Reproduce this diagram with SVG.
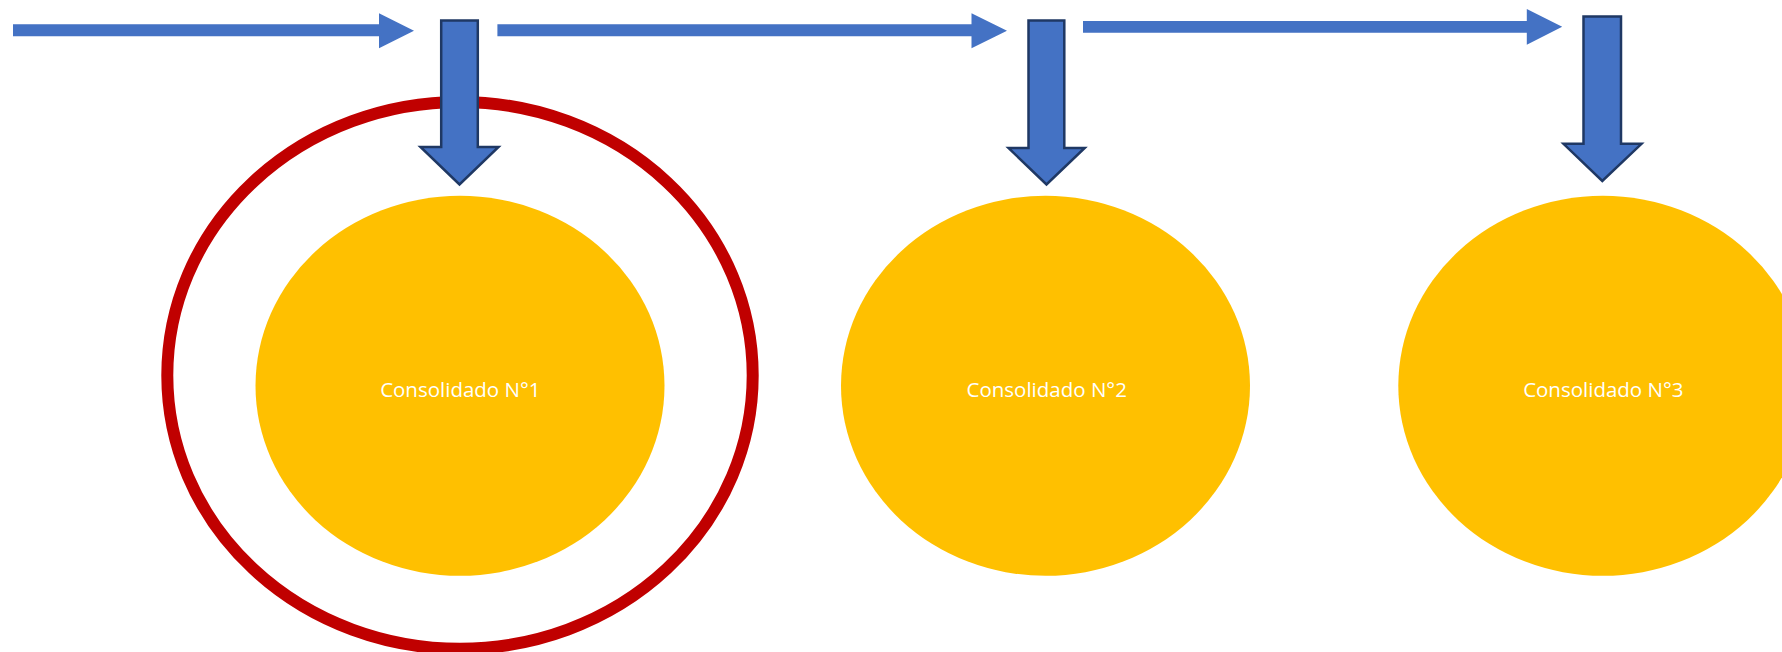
<svg xmlns="http://www.w3.org/2000/svg" width="1782" height="652" viewBox="0 0 1782 652">
  <style>
    .flow { fill: #4472C4; stroke: none; }
    .block { fill: #4472C4; stroke: #1F3864; stroke-width: 2.5; stroke-linejoin: miter; }
    .node { fill: #FFC000; }
    .ring { fill: none; stroke: #C00000; stroke-width: 12; }
    .label { fill: #FFFFFF; font-family: "Open Sans", "Liberation Sans", sans-serif; font-size: 20.5px; text-anchor: middle; }
  </style>
  <rect width="1782" height="652" fill="#FFFFFF"/>
  <g id="highlight">
    <ellipse class="ring" cx="460" cy="375.4" rx="292.7" ry="273.4"/>
  </g>
  <g id="node1">
    <ellipse class="node" cx="460" cy="385.8" rx="204.5" ry="190"/>
    <text class="label" x="460.3" y="396.8">Consolidado N°1</text>
  </g>
  <g id="node2">
    <ellipse class="node" cx="1045.5" cy="385.8" rx="204.5" ry="190"/>
    <text class="label" x="1046.7" y="397.2">Consolidado N°2</text>
  </g>
  <g id="node3">
    <ellipse class="node" cx="1602.8" cy="385.8" rx="204.5" ry="190"/>
    <text class="label" x="1603.3" y="397.2">Consolidado N°3</text>
  </g>
  <g id="connectors">
    <polygon class="flow" points="13,24.3 379,24.3 379,13.3 414,30.8 379,48.3 379,36.3 13,36.3"/>
    <polygon class="flow" points="497.4,24.3 971.5,24.3 971.5,13.3 1007,30.8 971.5,48.3 971.5,36.3 497.4,36.3"/>
    <polygon class="flow" points="1083,21 1526.8,21 1526.8,9 1562.2,26.8 1526.8,44.7 1526.8,32.7 1083,32.7"/>
    <polygon class="block" points="441.2,20.5 477.8,20.5 477.8,147 498.5,147 459.5,184.5 420.5,147 441.2,147"/>
    <polygon class="block" points="1028.5,20.5 1064.3,20.5 1064.3,148 1084.7,148 1046.5,184.5 1008.5,148 1028.5,148"/>
    <polygon class="block" points="1583.5,16.5 1621,16.5 1621,143.8 1641.5,143.8 1602.3,181 1563.5,143.8 1583.5,143.8"/>
  </g>
</svg>
